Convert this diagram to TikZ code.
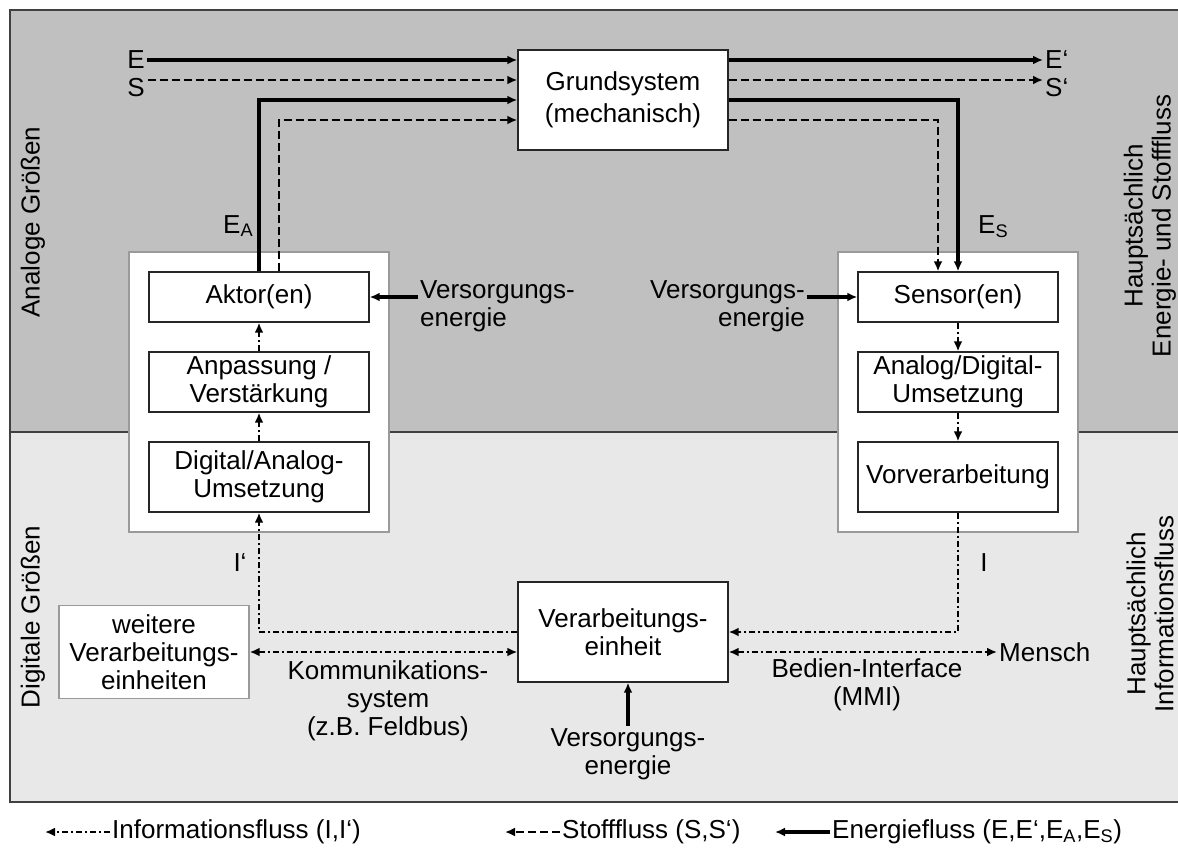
\documentclass[tikz,border=0pt]{standalone}
\usepackage{fontspec}
\setmainfont{Liberation Sans}
\usetikzlibrary{arrows.meta}
\definecolor{analogbg}{HTML}{C0C0C0}
\definecolor{digitalbg}{HTML}{E8E8E8}
\definecolor{framecol}{HTML}{404040}
\definecolor{groupcol}{HTML}{9A9A9A}
\begin{document}
\begin{tikzpicture}[x=1pt,y=-1pt,
  every node/.style={font=\fontsize{26}{28}\selectfont, inner sep=2pt},
  blk/.style={draw=black!85, line width=1.4pt, fill=white, align=center, inner sep=0pt},
  grp/.style={draw=groupcol, line width=1.4pt, fill=white, inner sep=0pt},
  tip/.style={-{Latex[length=10pt,width=9pt]}},
  both/.style={{Latex[length=10pt,width=9pt]}-{Latex[length=10pt,width=9pt]}},
  en/.style={line width=3.2pt},
  st/.style={line width=2.6pt, dash pattern=on 8pt off 4pt},
  inf/.style={line width=2.3pt, dash pattern=on 6pt off 3pt on 2pt off 3pt},
  lbl/.style={align=center},
]
\clip (0,0) rectangle (1178,852);
\fill[white] (0,0) rectangle (1178,852);
% analog (top) and digital (bottom) regions
\fill[analogbg] (10,10) rectangle (1200,432);
\fill[digitalbg] (10,432) rectangle (1200,802);
\draw[framecol, line width=2.2pt] (10,10) rectangle (1200,802);
\draw[framecol, line width=1.8pt] (10,432) -- (1200,432);

% region captions
\node[rotate=90] (an) at (33,222) {Analoge Größen};
\node[rotate=90] (dg) at (33,617) {Digitale Größen};
\node[rotate=90, lbl] (hr1) at (1150,226) {Hauptsächlich\\Energie- und Stofffluss};
\node[rotate=90, lbl] (hr2) at (1150,614) {Hauptsächlich\\Informationsfluss};

% basic system
\node[blk, minimum width=210pt, minimum height=100pt] (gs) at (623,100) {\rule{0pt}{8pt}Grundsystem\\[4pt](mechanisch)};

% actuator chain
\node[grp, minimum width=260pt, minimum height=280pt] (ga) at (259,392) {};
\node[blk, minimum width=220pt, minimum height=50pt] (akt) at (259,297) {Aktor(en)};
\node[blk, minimum width=220pt, minimum height=60pt] (anp) at (259,382) {Anpassung /\\Verstärkung};
\node[blk, minimum width=220pt, minimum height=70pt] (da) at (259,477) {Digital/Analog-\\Umsetzung};

% sensor chain
\node[grp, minimum width=240pt, minimum height=280pt] (gsn) at (958,392) {};
\node[blk, minimum width=200pt, minimum height=50pt] (sen) at (958,297) {Sensor(en)};
\node[blk, minimum width=200pt, minimum height=60pt] (ad) at (958,382) {Analog/Digital-\\Umsetzung};
\node[blk, minimum width=200pt, minimum height=70pt] (vv) at (958,477) {Vorverarbeitung};

% processing
\node[blk, minimum width=210pt, minimum height=100pt] (ve) at (623,632) {Verarbeitungs-\\einheit};
\node[blk, draw=groupcol, minimum width=190pt, minimum height=93pt] (we) at (154,652) {weitere\\Verarbeitungs-\\einheiten};

% inputs and outputs of the basic system
\node (lE) at (136,60) {E};
\node (lS) at (136,88) {S};
\coordinate (Sin) at (148,80);
\draw[en,tip] (lE.east) -- (lE.east -| gs.west);
\draw[st,tip] (Sin) -- (Sin -| gs.west);
\coordinate (Eout) at (1043,60);
\coordinate (Sout) at (1043,80);
\node[anchor=west] (lE2) at (1043,60) {E‘};
\node[anchor=west] (lS2) at (1043,88) {S‘};
\draw[en,tip] (Eout -| gs.east) -- (Eout);
\draw[st,tip] (Sout -| gs.east) -- (Sout);

% actuator to basic system
\draw[en,tip] (akt.north) |- (gs.west);
\draw[st,tip] ([xshift=20pt]akt.north) |- ([yshift=-20pt]gs.west);
\node[anchor=base west] (lEA) at (221,233) {E\textsubscript{A}};

% basic system to sensor
\draw[en,tip] (gs.east) -| (sen.north);
\draw[st,tip] ([yshift=-20pt]gs.east) -| ([xshift=-20pt]sen.north);
\node[anchor=base west] (lES) at (976,233) {E\textsubscript{S}};

% supply energy
\node[align=left, anchor=west] (vl) at (418,306) {Versorgungs-\\energie};
\draw[en,tip] (vl.west |- akt.east) -- (akt.east);
\node[align=right, anchor=east] (vr) at (807,306) {Versorgungs-\\energie};
\draw[en,tip] (vr.east |- sen.west) -- (sen.west);
\node[lbl] (vb) at (628,754) {Versorgungs-\\energie};
\draw[en,tip] (vb.north) -- (vb.north |- ve.south);

% information flow inside the chains
\draw[inf,tip] (anp.north) -- (akt.south);
\draw[inf,tip] (da.north) -- (anp.south);
\draw[inf,tip] (sen.south) -- (ad.north);
\draw[inf,tip] (ad.south) -- (vv.north);

% information flow to and from the processing unit
\draw[inf,tip] (vv.south) |- (ve.east);
\draw[inf,tip] (ve.west) -| (da.south);
\node (lI) at (984,563) {I};
\node (lI2) at (240,563) {I‘};
\node[anchor=west] (men) at (997,652) {Mensch};
\draw[inf,both] (we.east) -- ([yshift=-20pt]ve.west);
\draw[inf,both] ([yshift=-20pt]ve.east) -- (men.west);
\node[lbl] (kom) at (388,701) {Kommunikations-\\system\\(z.B. Feldbus)};
\node[lbl] (bed) at (867,685) {Bedien-Interface\\(MMI)};

% legend
\coordinate (li) at (45,832);
\node[anchor=west] (ti) at (110,832) {Informationsfluss (I,I‘)};
\draw[inf,tip] (ti.west) -- (li);
\coordinate (ls) at (505,832);
\node[anchor=west] (ts) at (560,832) {Stofffluss (S,S‘)};
\draw[st,tip] (ts.west) -- (ls);
\coordinate (le) at (775,832);
\node[anchor=west] (te) at (830,832) {Energiefluss (E,E‘,E\textsubscript{A},E\textsubscript{S})};
\draw[en,tip] (te.west) -- (le);
\end{tikzpicture}
\end{document}
